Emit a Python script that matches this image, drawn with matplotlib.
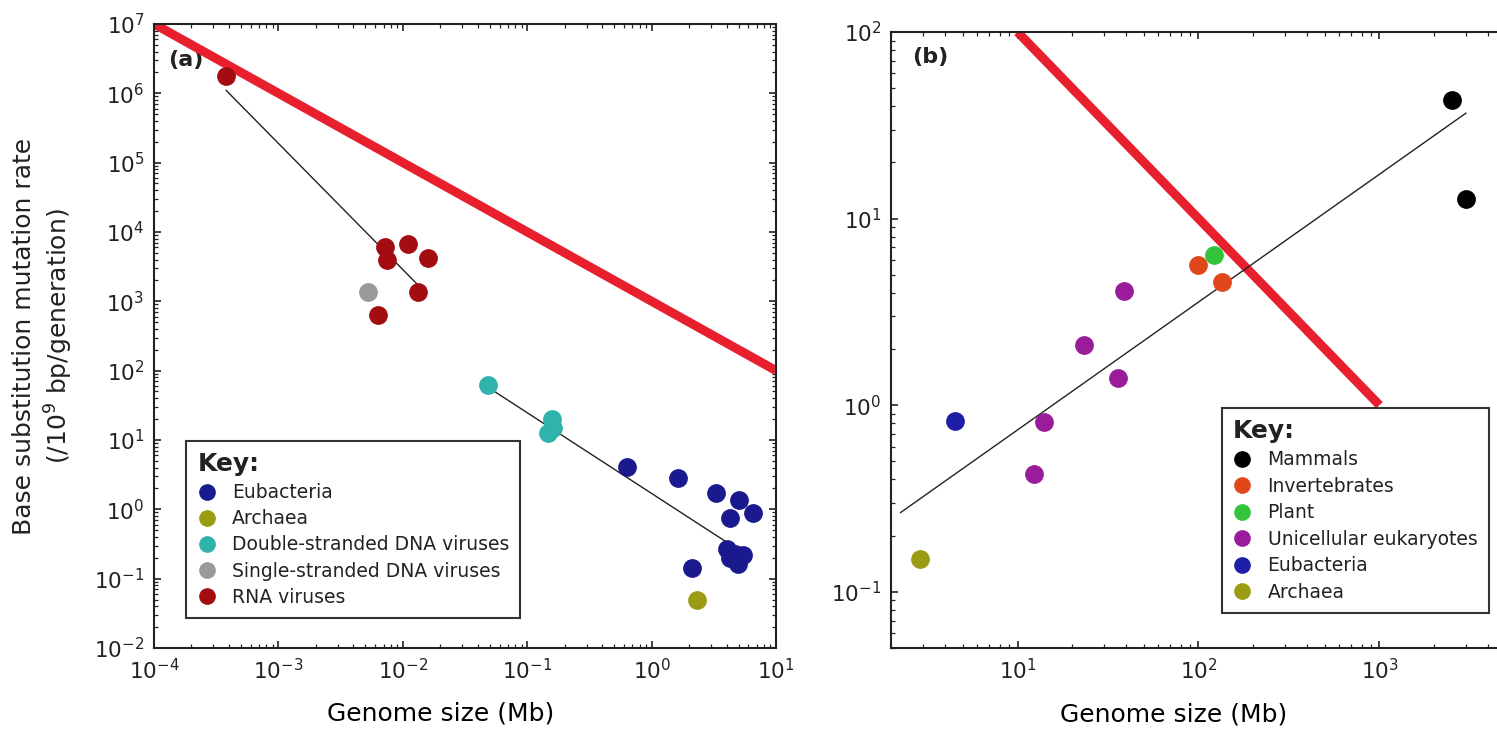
import matplotlib
matplotlib.use('Agg')
import matplotlib.pyplot as plt

plt.rcParams['font.family'] = ['DejaVu Sans']
plt.rcParams['text.color'] = '#222222'

# ---- panel (a): genome size (Mb) vs mutation rate ----
euba_a_size = [0.63, 1.64, 3.3, 5.0, 4.3, 6.5, 4.0, 4.7, 5.4, 4.9, 4.3, 2.1]
euba_a_rate = [4.1, 2.8, 1.7, 1.35, 0.74, 0.87, 0.27, 0.23, 0.22, 0.16, 0.20, 0.14]
arch_a_size = [2.3]
arch_a_rate = [0.05]
dsdna_size = [0.048, 0.158, 0.162, 0.148]
dsdna_rate = [62, 20, 15, 12.6]
ssdna_size = [5.2e-3]
ssdna_rate = [1.35e3]
rna_size = [3.8e-4, 7.2e-3, 1.1e-2, 7.5e-3, 1.6e-2, 1.32e-2, 6.3e-3]
rna_rate = [1.78e6, 6.0e3, 6.8e3, 3.9e3, 4.2e3, 1.35e3, 630]

rna_fit_x = [3.8e-4, 1.29e-2]
rna_fit_y = [1.1e6, 1.8e3]
dna_fit_x = [0.048, 6.0]
dna_fit_y = [58, 0.21]
guide_a_x = [1e-4, 10]
guide_a_y = [1e7, 1e2]

# ---- panel (b) ----
mamm_size = [2500, 3000]
mamm_rate = [43, 12.8]
inv_size = [99, 135]
inv_rate = [5.65, 4.57]
plant_size = [122]
plant_rate = [6.4]
uni_size = [39, 23.3, 35.9, 14.0, 12.3]
uni_rate = [4.1, 2.09, 1.40, 0.817, 0.428]
euba_b_size = [4.5]
euba_b_rate = [0.826]
arch_b_size = [2.88]
arch_b_rate = [0.15]

euk_fit_x = [2.26, 3000]
euk_fit_y = [0.266, 36.7]
guide_b_x = [10, 1000]
guide_b_y = [100, 1]

C_EUBA = '#1a1a8e'
C_ARCH = '#9c9c14'
C_DS = '#2fb3ab'
C_SS = '#9a9a9a'
C_RNA = '#a30d12'
RED = '#e8202e'

MS = 12.5


def style_axes(ax):
    ax.set_xscale('log')
    ax.set_yscale('log')
    for s in ax.spines.values():
        s.set_linewidth(1.5)
        s.set_color('#222222')
    ax.tick_params(which='both', direction='in', top=True, right=True,
                   colors='#222222', labelsize=15.5, pad=7)
    ax.tick_params(which='major', length=5, width=1.2)
    ax.tick_params(which='minor', length=3, width=0.9)


def make_legend(ax, anchor, spacing):
    leg = ax.legend(loc='upper left', bbox_to_anchor=anchor, borderaxespad=0,
                    fontsize=13.5, title='Key:',
                    title_fontproperties={'weight': 'bold', 'size': 18},
                    alignment='left', fancybox=False, framealpha=1,
                    edgecolor='#333333', borderpad=0.6, labelspacing=spacing,
                    handlelength=1.0, handletextpad=0.84, markerscale=0.88)
    leg.get_frame().set_linewidth(1.5)
    return leg


fig = plt.figure(figsize=(14.97, 7.32), dpi=100)
ax_a = fig.add_axes([0.1029, 0.1148, 0.4155, 0.8525])
ax_b = fig.add_axes([0.5952, 0.1148, 0.4108, 0.8415])

# panel (a)
style_axes(ax_a)
ax_a.plot(guide_a_x, guide_a_y, color=RED, lw=6.5, solid_capstyle='butt', zorder=2)
ax_a.plot(rna_fit_x, rna_fit_y, color='#222222', lw=1.0, zorder=3)
ax_a.plot(dna_fit_x, dna_fit_y, color='#222222', lw=1.0, zorder=3)
ax_a.plot(euba_a_size, euba_a_rate, 'o', ms=MS, color=C_EUBA, label='Eubacteria', zorder=4)
ax_a.plot(arch_a_size, arch_a_rate, 'o', ms=MS, color=C_ARCH, label='Archaea', zorder=4)
ax_a.plot(dsdna_size, dsdna_rate, 'o', ms=MS, color=C_DS,
          label='Double-stranded DNA viruses', zorder=4)
ax_a.plot(ssdna_size, ssdna_rate, 'o', ms=MS, color=C_SS,
          label='Single-stranded DNA viruses', zorder=4)
ax_a.plot(rna_size, rna_rate, 'o', ms=MS, color=C_RNA, label='RNA viruses', zorder=4)
ax_a.set_xlim(1e-4, 10)
ax_a.set_ylim(1e-2, 1e7)
ax_a.set_yticks([10.0 ** k for k in range(-2, 8)])
ax_a.set_xlabel('Genome size (Mb)', fontsize=18)
ax_a.xaxis.set_label_coords(0.46, -0.085)
ax_a.text(0.051, 0.942, '(a)', transform=ax_a.transAxes, fontsize=16,
          fontweight='bold', ha='center', va='center', zorder=1)
make_legend(ax_a, (0.0514, 0.332), 0.38)

# panel (b)
style_axes(ax_b)
ax_b.plot(guide_b_x, guide_b_y, color=RED, lw=6.5, solid_capstyle='butt', zorder=2)
ax_b.plot(euk_fit_x, euk_fit_y, color='#222222', lw=1.0, zorder=3)
ax_b.plot(mamm_size, mamm_rate, 'o', ms=MS, color='#000000', label='Mammals', zorder=4)
ax_b.plot(inv_size, inv_rate, 'o', ms=MS, color='#e0481c', label='Invertebrates', zorder=4)
ax_b.plot(plant_size, plant_rate, 'o', ms=MS, color='#34c43c', label='Plant', zorder=4)
ax_b.plot(uni_size, uni_rate, 'o', ms=MS, color='#9a1c9a',
          label='Unicellular eukaryotes', zorder=4)
ax_b.plot(euba_b_size, euba_b_rate, 'o', ms=MS, color='#1e1ea6', label='Eubacteria', zorder=4)
ax_b.plot(arch_b_size, arch_b_rate, 'o', ms=MS, color=C_ARCH, label='Archaea', zorder=4)
ax_b.set_xlim(2, 5000)
ax_b.set_ylim(0.05, 100)
ax_b.set_xlabel('Genome size (Mb)', fontsize=18)
ax_b.xaxis.set_label_coords(0.459, -0.088)
ax_b.text(0.063, 0.959, '(b)', transform=ax_b.transAxes, fontsize=16,
          fontweight='bold', ha='center', va='center', zorder=1)
make_legend(ax_b, (0.538, 0.390), 0.40)

fig.text(0.029, 0.541, 'Base substitution mutation rate\n(/10$^{9}$ bp/generation)',
         rotation=90, ha='center', va='center', multialignment='center',
         fontsize=18, linespacing=1.25)

fig.savefig('out.png', dpi=100)
plt.close(fig)
